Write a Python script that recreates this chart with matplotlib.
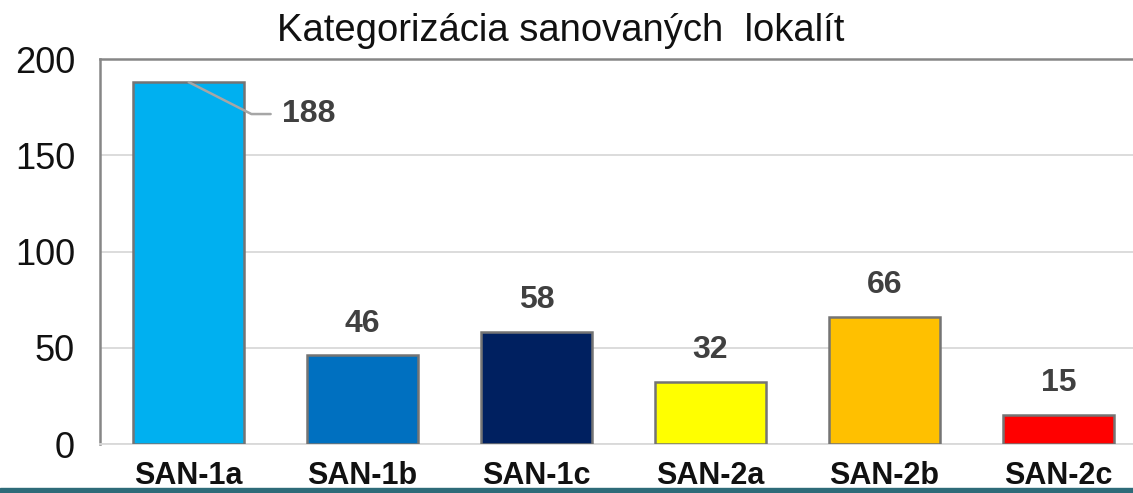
import matplotlib
matplotlib.use('Agg')
import matplotlib.pyplot as plt

plt.rcParams['font.family'] = ['Liberation Sans', 'DejaVu Sans']

categories = ['SAN-1a', 'SAN-1b', 'SAN-1c', 'SAN-2a', 'SAN-2b', 'SAN-2c']
counts = [188, 46, 58, 32, 66, 15]
bar_colors = ['#00B0F0', '#0070C0', '#002060', '#FFFF00', '#FFC000', '#FF0000']
title = 'Kategorizácia sanovaných  lokalít'

fig = plt.figure(figsize=(11.33, 4.93), dpi=100, facecolor='w')
ax = fig.add_axes([100 / 1133, 49 / 493, 1047 / 1133, 385 / 493])

x = range(len(categories))
ax.bar(x, counts, width=0.64, color=bar_colors, edgecolor='#747474', linewidth=1.8, zorder=3)

ax.set_xlim(-0.51, 5.51)
ax.set_ylim(0, 200)
ax.set_yticks([0, 50, 100, 150, 200])
ax.yaxis.grid(True, color='#D9D9D9', linewidth=1.3, zorder=0)
ax.set_axisbelow(True)

for side in ['left', 'top', 'right']:
    ax.spines[side].set_color('#868686')
    ax.spines[side].set_linewidth(1.8)
ax.spines['bottom'].set_color('#D9D9D9')
ax.spines['bottom'].set_linewidth(1.3)

ax.tick_params(axis='y', length=0, pad=18, labelsize=26, labelcolor='#111111')
ax.tick_params(axis='x', length=0, pad=12, labelsize=22)
ax.set_xticks(list(x))
ax.set_xticklabels(categories, fontweight='bold', color='#111111')

for i, v in enumerate(counts):
    if i == 0:
        ax.annotate(str(v), xy=(i, v), xytext=(67, -23), textcoords='offset points',
                    ha='left', va='center', fontsize=23, fontweight='bold', color='#404040',
                    arrowprops=dict(arrowstyle='-', color='#A6A6A6', linewidth=1.8,
                                    connectionstyle='angle,angleA=0,angleB=-27,rad=0',
                                    shrinkA=6, shrinkB=0))
    else:
        ax.annotate(str(v), xy=(i, v), xytext=(0, 23), textcoords='offset points',
                    ha='center', va='center', fontsize=23, fontweight='bold', color='#404040')

fig.text(0.495, 1 - 41 / 493, title, ha='center', va='baseline', fontsize=27.5, color='#111111')

# teal strip at the bottom edge
fig.add_artist(plt.Rectangle((0, 0), 1, 5 / 493, transform=fig.transFigure,
                             color='#2E6B79', zorder=10))

fig.savefig('out.png', dpi=100)
